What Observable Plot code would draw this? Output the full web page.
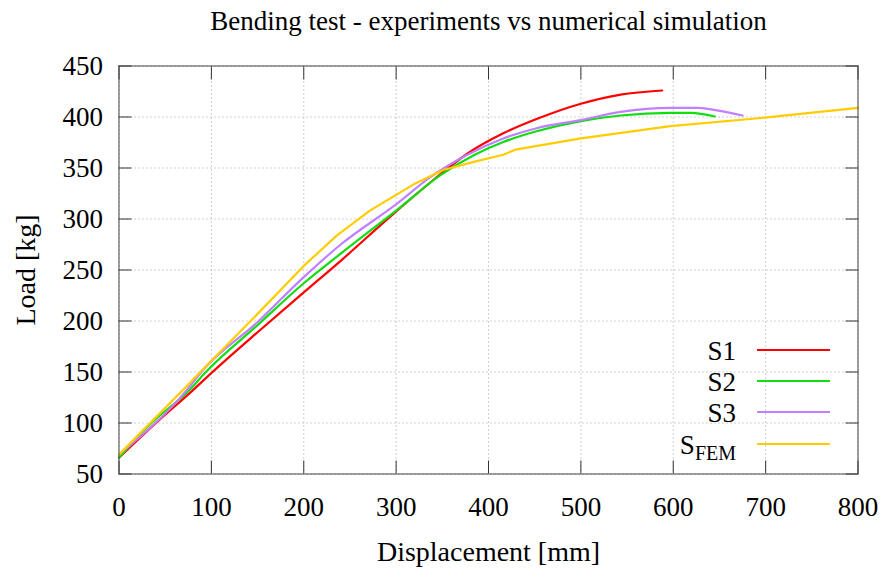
<!DOCTYPE html>
<html>
<head>
<meta charset="utf-8">
<script src="https://cdn.jsdelivr.net/npm/d3@7"></script>
<script src="https://cdn.jsdelivr.net/npm/@observablehq/plot@0.6"></script>
<style>
  html, body { margin: 0; padding: 0; background: #fff; }
  #wrap { position: relative; width: 885px; height: 571px; font-family: "Liberation Serif", "Times New Roman", Times, "DejaVu Serif", serif; }
  #wrap svg text { font-family: "Liberation Serif", "Times New Roman", Times, "DejaVu Serif", serif; }
  #legend { position: absolute; left: 0; top: 0; width: 885px; height: 571px; pointer-events: none; }
  .lab { position: absolute; font-size: 27px; line-height: 30px; color: #000; white-space: nowrap; }
  .sw { position: absolute; height: 2px; }
  sub { font-size: 20px; vertical-align: -6px; line-height: 0; }
</style>
</head>
<body>
<div id="wrap"></div>
<script>
// ---- data ----
const titleText = "Bending test - experiments vs numerical simulation";
const xLabel = "Displacement [mm]";
const yLabel = "Load [kg]";
const xTicks = [0, 100, 200, 300, 400, 500, 600, 700, 800];
const yTicks = [50, 100, 150, 200, 250, 300, 350, 400, 450];
const seriesNames = ["S1", "S2", "S3", "SFEM"];
const seriesColors = ["#ff0000", "#11dd11", "#c080ff", "#ffcc00"];

const s1x = [0, 40, 81, 100, 150, 200, 240, 297, 340, 377, 416, 452, 500, 543, 588];
const s1y = [66, 100, 133, 149, 189, 228, 259, 305, 338, 364, 384, 398, 413, 422, 426];

const s2x = [0, 34, 77, 94, 150, 200, 240, 301, 348, 385, 416, 452, 500, 543, 597, 619, 645];
const s2y = [66, 99, 133, 150, 196, 237, 266, 309, 343, 363, 375.5, 386, 396, 401.5, 404, 404, 400.5];

const s3x = [0, 74, 90, 150, 200, 240, 301, 337, 375, 416, 452, 500, 543, 597, 626, 641, 675];
const s3y = [69, 133, 151, 199, 243, 275, 315, 341, 362, 379, 389, 397, 405, 409, 409, 407.5, 401.5];

const sfx = [0, 70, 88, 150, 200, 236, 272, 319, 351, 384, 416, 429, 500, 597, 695, 800];
const sfy = [69, 133, 150, 207, 254, 284, 308.5, 334, 348, 356, 363, 368, 379, 391, 399, 409];

const allX = [s1x, s2x, s3x, sfx];
const allY = [s1y, s2y, s3y, sfy];
const rows = [];
allX.forEach((xs, k) => xs.forEach((x, i) => rows.push({series: seriesNames[k], x, y: allY[k][i]})));

// ---- chart ----
const W = 885, H = 571;
const font = "'Liberation Serif', 'Times New Roman', Times, 'DejaVu Serif', serif";
const grid = {stroke: "#a0a0a0", strokeOpacity: 1, strokeDasharray: "1,3", strokeWidth: 1};

const chart = Plot.plot({
  width: W, height: H,
  marginLeft: 118.5, marginRight: 27.5, marginTop: 65.5, marginBottom: 97.5,
  style: {fontFamily: font, background: "white", color: "#000"},
  x: {domain: [0, 800], label: null},
  y: {domain: [50, 450], label: null},
  color: {domain: seriesNames, range: seriesColors},
  marks: [
    Plot.gridX(xTicks, grid),
    Plot.gridY(yTicks, grid),
    Plot.axisX(xTicks, {anchor: "bottom", tickSize: 0, tickPadding: 23, fontSize: 27, label: null}),
    Plot.axisY(yTicks, {anchor: "left", tickSize: 0, tickPadding: 16, fontSize: 27, label: null}),
    Plot.axisX(xTicks, {anchor: "bottom", tickSize: -13, tickFormat: () => "", label: null, stroke: "#333"}),
    Plot.axisX(xTicks, {anchor: "top", tickSize: -13, tickFormat: () => "", label: null, stroke: "#333"}),
    Plot.axisY(yTicks, {anchor: "left", tickSize: -13, tickFormat: () => "", label: null, stroke: "#333"}),
    Plot.axisY(yTicks, {anchor: "right", tickSize: -13, tickFormat: () => "", label: null, stroke: "#333"}),
    Plot.line(rows.filter(d => d.series !== "SFEM"), {x: "x", y: "y", z: "series", stroke: "series", strokeWidth: 2.2, curve: "monotone-x"}),
    Plot.line(rows.filter(d => d.series === "SFEM"), {x: "x", y: "y", stroke: "series", strokeWidth: 2.2}),
    Plot.frame({stroke: "#444", strokeWidth: 1}),
    Plot.text([titleText], {frameAnchor: "top", lineAnchor: "middle", dy: -45, fontSize: 27, fill: "#000"}),
    Plot.text([xLabel], {frameAnchor: "bottom", lineAnchor: "middle", dy: 78, fontSize: 28, fill: "#000"}),
    Plot.text([yLabel], {frameAnchor: "left", textAnchor: "middle", lineAnchor: "middle", dx: -93, rotate: -90, fontSize: 28, fill: "#000"})
  ]
});
const wrap = document.getElementById("wrap");
wrap.appendChild(chart);

// ---- legend (inside plot area, bottom right) ----
const legend = document.createElement("div");
legend.id = "legend";
const legendTops = [336, 367, 398, 430];
seriesNames.forEach((name, i) => {
  const lab = document.createElement("div");
  lab.className = "lab";
  lab.style.right = (885 - 736) + "px";
  lab.style.top = legendTops[i] + "px";
  lab.innerHTML = name === "SFEM" ? "S<sub>FEM</sub>" : name;
  legend.appendChild(lab);
  const sw = document.createElement("div");
  sw.className = "sw";
  sw.style.left = "757px";
  sw.style.width = "73px";
  sw.style.top = (legendTops[i] + 13) + "px";
  sw.style.background = seriesColors[i];
  legend.appendChild(sw);
});
wrap.appendChild(legend);
</script>
</body>
</html>
